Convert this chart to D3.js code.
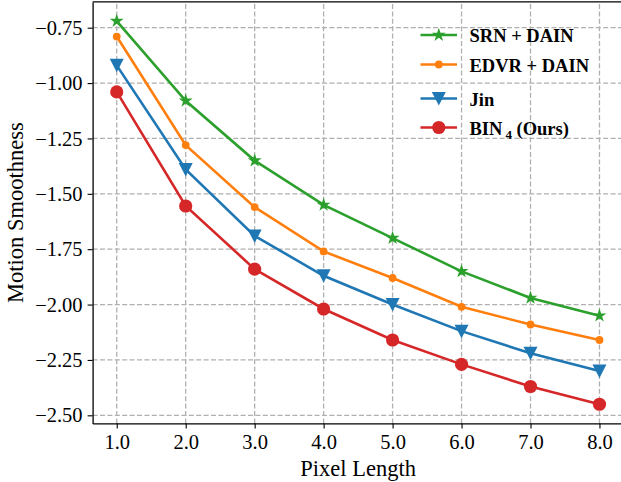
<!DOCTYPE html>
<html>
<head>
<meta charset="utf-8">
<script src="https://cdn.jsdelivr.net/npm/d3@7"></script>
<style>
  body { margin: 0; background: #fff; }
  svg { display: block; font-family: "Liberation Serif", "Times New Roman", serif; }
</style>
</head>
<body>
<script>
// chart data
var pixelLength = [1, 2, 3, 4, 5, 6, 7, 8];
var srnDain  = [-0.72, -1.08, -1.35, -1.55, -1.70, -1.85, -1.97, -2.05];
var edvrDain = [-0.79, -1.28, -1.56, -1.76, -1.88, -2.01, -2.09, -2.16];
var jin      = [-0.92, -1.39, -1.69, -1.87, -2.00, -2.12, -2.22, -2.30];
var bin4     = [-1.04, -1.555, -1.84, -2.02, -2.16, -2.27, -2.37, -2.45];
var yTicks = [-0.75, -1.00, -1.25, -1.50, -1.75, -2.00, -2.25, -2.50];
var seriesNames = ["SRN + DAIN", "EDVR + DAIN", "Jin", "BIN"];

var width = 621, height = 482;
var margin = {top: 1.9, right: -2.6, bottom: 58.6, left: 92.6};

var svg = d3.select("body").append("svg")
    .attr("width", width)
    .attr("height", height);

var allVals = srnDain.concat(edvrDain, jin, bin4);
var yMin = d3.min(allVals), yMax = d3.max(allVals);
var yPad = (yMax - yMin) * 0.05;
var xPad = (d3.max(pixelLength) - d3.min(pixelLength)) * 0.05;

var x = d3.scaleLinear()
    .domain([d3.min(pixelLength) - xPad, d3.max(pixelLength) + xPad])
    .range([margin.left, width - margin.right]);

var y = d3.scaleLinear()
    .domain([yMin - yPad, yMax + yPad])
    .range([height - margin.bottom, margin.top]);

// grid
var grid = svg.append("g").attr("class", "grid");
grid.selectAll("line.gx")
    .data(pixelLength)
    .enter().append("line")
    .attr("x1", function (d) { return x(d); })
    .attr("x2", function (d) { return x(d); })
    .attr("y1", y.range()[0])
    .attr("y2", y.range()[1]);
grid.selectAll("line.gy")
    .data(yTicks)
    .enter().append("line")
    .attr("x1", x.range()[0])
    .attr("x2", x.range()[1])
    .attr("y1", function (d) { return y(d); })
    .attr("y2", function (d) { return y(d); });
grid.selectAll("line")
    .attr("stroke", "#b0b0b0")
    .attr("stroke-width", 1.3)
    .attr("stroke-dasharray", "5,2.4");

// axes
var fmtY = function (d) { return d3.format(".2f")(d).replace("-", "\u2212"); };
var xAxis = svg.append("g")
    .attr("transform", "translate(0," + y.range()[0] + ")")
    .call(d3.axisBottom(x).tickValues(pixelLength).tickFormat(d3.format(".1f"))
        .tickSize(5).tickPadding(6).tickSizeOuter(0));
var yAxis = svg.append("g")
    .attr("transform", "translate(" + x.range()[0] + ",0)")
    .call(d3.axisLeft(y).tickValues(yTicks).tickFormat(fmtY)
        .tickSize(5).tickPadding(5).tickSizeOuter(0));

[xAxis, yAxis].forEach(function (ax) {
    ax.attr("font-family", "'Liberation Serif', serif").attr("font-size", 20.5);
    ax.select(".domain").attr("stroke", "#000").attr("stroke-width", 1.3);
    ax.selectAll(".tick line").attr("stroke", "#000").attr("stroke-width", 1.1);
    ax.selectAll(".tick text").attr("fill", "#000");
});

// top border
svg.append("line")
    .attr("x1", x.range()[0]).attr("x2", x.range()[1])
    .attr("y1", y.range()[1]).attr("y2", y.range()[1])
    .attr("stroke", "#000").attr("stroke-width", 1.3);

// axis labels
svg.append("text")
    .attr("x", (x.range()[0] + x.range()[1]) / 2)
    .attr("y", 476)
    .attr("text-anchor", "middle")
    .style("font-size", "22.5px")
    .text("Pixel Length");

svg.append("text")
    .attr("transform", "translate(23," + ((y.range()[0] + y.range()[1]) / 2) + ") rotate(-90)")
    .attr("text-anchor", "middle")
    .style("font-size", "22.5px")
    .text("Motion Smoothness");

// marker shapes
var starPath = d3.symbol().type(d3.symbolStar).size(60)();
var triPath = "M-7,-6.5L7,-6.5L0,7Z";

var series = [
    {name: seriesNames[0], values: srnDain, color: "#2ca02c", marker: "star"},
    {name: seriesNames[1], values: edvrDain, color: "#ff7f0e", marker: "dot", r: 3.9},
    {name: seriesNames[2], values: jin, color: "#1f77b4", marker: "tri"},
    {name: seriesNames[3], values: bin4, color: "#d62728", marker: "dot", r: 6.6}
];

function drawMarker(g, s) {
    if (s.marker === "star") {
        g.append("path").attr("d", starPath).attr("fill", s.color);
    } else if (s.marker === "tri") {
        g.append("path").attr("d", triPath).attr("fill", s.color);
    } else {
        g.append("circle").attr("r", s.r).attr("fill", s.color);
    }
}

var line = d3.line()
    .x(function (d, i) { return x(pixelLength[i]); })
    .y(function (d) { return y(d); });

series.forEach(function (s) {
    var g = svg.append("g");
    g.append("path")
        .datum(s.values)
        .attr("d", line)
        .attr("fill", "none")
        .attr("stroke", s.color)
        .attr("stroke-width", 2.6);
    s.values.forEach(function (v, i) {
        var m = g.append("g")
            .attr("transform", "translate(" + x(pixelLength[i]) + "," + y(v) + ")");
        drawMarker(m, s);
    });
});

// legend
var legendY = [35, 64.5, 98.5, 127.5];
var legend = svg.append("g");
series.forEach(function (s, i) {
    var g = legend.append("g").attr("transform", "translate(0," + legendY[i] + ")");
    g.append("line")
        .attr("x1", 420.5).attr("x2", 457)
        .attr("stroke", s.color).attr("stroke-width", 2.6);
    var m = g.append("g").attr("transform", "translate(438.8,0)");
    drawMarker(m, s);
    var t = g.append("text")
        .attr("x", 469.5)
        .attr("y", 7)
        .style("font-weight", "bold")
        .style("font-size", "18.5px");
    if (i === 3) {
        t.append("tspan").text("BIN");
        t.append("tspan").attr("dx", 3).attr("dy", 4).style("font-size", "13px").text("4");
        t.append("tspan").attr("dy", -4).text(" (Ours)");
    } else {
        t.text(s.name);
    }
});
</script>
</body>
</html>
